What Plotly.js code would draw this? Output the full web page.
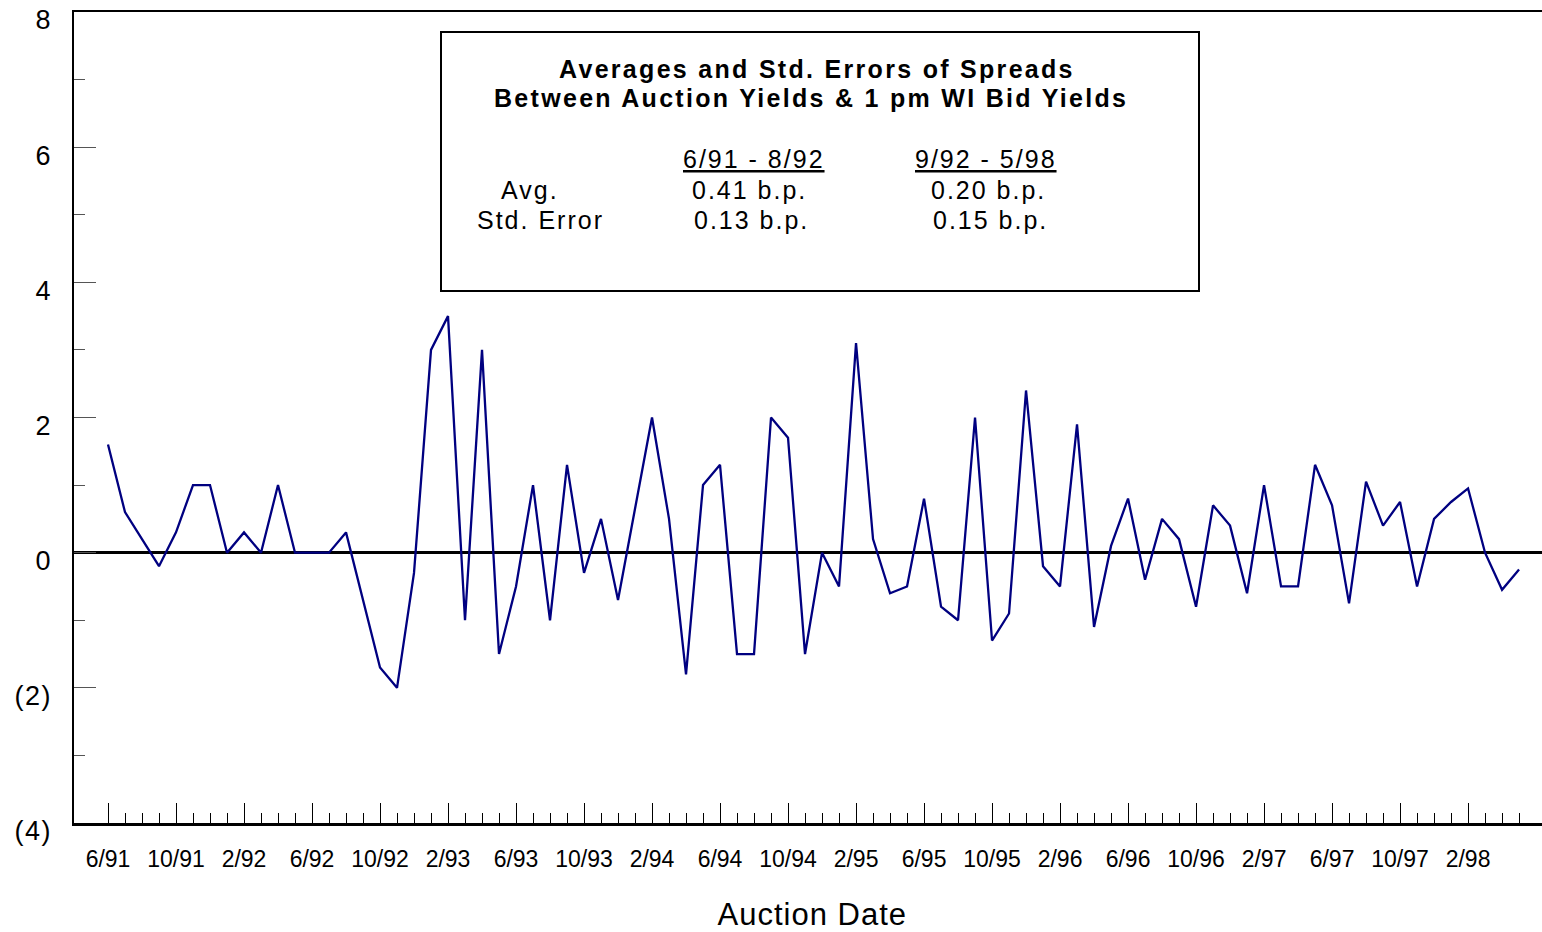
<!DOCTYPE html>
<html>
<head>
<meta charset="utf-8">
<script src="https://cdn.plot.ly/plotly-3.0.1.min.js"></script>
<style>
  html, body { margin: 0; padding: 0; background: #ffffff; }
  #chart { width: 1542px; height: 932px; }
</style>
</head>
<body>
<div id="chart"></div>
<script>
// ---- Data ----
const auctionMonths = [
  "6/91","7/91","8/91","9/91","10/91","11/91","12/91",
  "1/92","2/92","3/92","4/92","5/92","6/92","7/92","8/92","9/92","10/92","11/92","12/92",
  "1/93","2/93","3/93","4/93","5/93","6/93","7/93","8/93","9/93","10/93","11/93","12/93",
  "1/94","2/94","3/94","4/94","5/94","6/94","7/94","8/94","9/94","10/94","11/94","12/94",
  "1/95","2/95","3/95","4/95","5/95","6/95","7/95","8/95","9/95","10/95","11/95","12/95",
  "1/96","2/96","3/96","4/96","5/96","6/96","7/96","8/96","9/96","10/96","11/96","12/96",
  "1/97","2/97","3/97","4/97","5/97","6/97","7/97","8/97","9/97","10/97","11/97","12/97",
  "1/98","2/98","3/98","4/98","5/98"
];
const spreadsBp = [
  1.6, 0.6, 0.2, -0.2, 0.3, 1.0, 1.0,
  0, 0.3, 0, 1.0, 0, 0, 0, 0.3, -0.7, -1.7, -2.0, -0.3,
  3.0, 3.5, -1.0, 3.0, -1.5, -0.5, 1.0, -1.0, 1.3, -0.3, 0.5, -0.7,
  0.65, 2.0, 0.5, -1.8, 1.0, 1.3, -1.5, -1.5, 2.0, 1.7, -1.5, 0,
  -0.5, 3.1, 0.2, -0.6, -0.5, 0.8, -0.8, -1.0, 2.0, -1.3, -0.9, 2.4,
  -0.2, -0.5, 1.9, -1.1, 0.1, 0.8, -0.4, 0.5, 0.2, -0.8, 0.7, 0.4,
  -0.6, 1.0, -0.5, -0.5, 1.3, 0.7, -0.75, 1.05, 0.4, 0.75, -0.5, 0.5,
  0.75, 0.95, 0, -0.55, -0.25
];
const xTickLabels = ["6/91","10/91","2/92","6/92","10/92","2/93","6/93","10/93","2/94","6/94",
  "10/94","2/95","6/95","10/95","2/96","6/96","10/96","2/97","6/97","10/97","2/98"];
const yTickValues = [8, 6, 4, 2, 0, -2, -4];
const yTickLabels = ["8", "6", "4", "2", "0", "(2)", "(4)"];
const boxTitleLines = ["Averages and Std. Errors of Spreads", "Between Auction Yields &amp; 1 pm WI Bid Yields"];
const periodLabels = ["6/91 - 8/92", "9/92 - 5/98"];
const statRowLabels = ["Avg.", "Std. Error"];
const avgValues = ["0.41 b.p.", "0.20 b.p."];
const stdErrValues = ["0.13 b.p.", "0.15 b.p."];
const xAxisTitle = "Auction Date";

// ---- Build chart ----
const monthIndex = auctionMonths.map((m, i) => i);
const xTickVals = xTickLabels.map(l => auctionMonths.indexOf(l));

const FONT = "Liberation Sans, Arial, Helvetica, sans-serif";
const sp = (t, s) => `<span style="letter-spacing:${s}px">${t}</span>`;

const trace = {
  x: monthIndex,
  y: spreadsBp,
  text: auctionMonths,
  type: "scatter",
  mode: "lines",
  line: { color: "#000080", width: 2.3 },
  hoverinfo: "text+y"
};

// plot area in px: left 74, right 1542, top 12, bottom 823
const px = x => (x - 74) / 1468;
const py = y => (823 - y) / 811;

function ann(text, x, y, size) {
  return {
    xref: "paper", yref: "paper", x: px(x), y: py(y),
    xanchor: "center", yanchor: "middle", showarrow: false,
    text: text, font: { family: FONT, size: size, color: "#000" }
  };
}

const annotations = [
  ann(`<b>${sp(boxTitleLines[0], 2.3)}</b>`, 817, 69, 25),
  ann(`<b>${sp(boxTitleLines[1], 2.3)}</b>`, 811, 98, 25),
  ann(`<u>${sp(periodLabels[0], 2)}</u>`, 754, 159, 25),
  ann(`<u>${sp(periodLabels[1], 2)}</u>`, 986, 159, 25),
  ann(sp(statRowLabels[0], 2), 530, 190, 25),
  ann(sp(avgValues[0], 2), 749, 190, 25),
  ann(sp(avgValues[1], 2), 989, 190, 25),
  ann(sp(statRowLabels[1], 2), 540, 220, 25),
  ann(sp(stdErrValues[0], 2), 751, 220, 25),
  ann(sp(stdErrValues[1], 2), 990, 220, 25)
];

const layout = {
  width: 1542, height: 932,
  margin: { l: 74, r: 0, t: 12, b: 109, pad: 0 },
  paper_bgcolor: "#ffffff", plot_bgcolor: "#ffffff",
  showlegend: false,
  font: { family: FONT, color: "#000" },
  xaxis: {
    range: [-2, 84.35],
    showline: true, linecolor: "#000", linewidth: 2.5, mirror: true,
    showgrid: false, zeroline: false,
    ticks: "inside", ticklen: 20, tickwidth: 1, tickcolor: "#000",
    tickmode: "array", tickvals: xTickVals, ticktext: xTickLabels,
    tickfont: { family: FONT, size: 23, color: "#000" },
    ticklabelstandoff: 14,
    minor: { ticks: "inside", tickmode: "array", tickvals: monthIndex, ticklen: 10, tickwidth: 1, tickcolor: "#000", showgrid: false },
    title: { text: "&nbsp;" + sp(xAxisTitle, 1), font: { family: FONT, size: 31, color: "#000" }, standoff: 40 },
    fixedrange: true
  },
  yaxis: {
    range: [-4, 8],
    showline: true, linecolor: "#000", linewidth: 2.5, mirror: false,
    showgrid: false,
    zeroline: true, zerolinecolor: "#000", zerolinewidth: 2.4,
    ticks: "inside", ticklen: 22, tickwidth: 1, tickcolor: "#555",
    tickmode: "array", tickvals: yTickValues, ticktext: yTickLabels.map(t => sp(t, 1.5)),
    tickfont: { family: FONT, size: 27, color: "#000" },
    ticklabelstandoff: 14,
    ticklabelshift: 8,
    minor: { ticks: "inside", dtick: 1, tick0: 0, ticklen: 11, tickwidth: 1, tickcolor: "#555", showgrid: false },
    fixedrange: true
  },
  shapes: [{
    type: "rect", xref: "paper", yref: "paper",
    x0: px(441), x1: px(1199), y0: py(291), y1: py(32),
    line: { color: "#000", width: 2 }, fillcolor: "rgba(0,0,0,0)", layer: "above"
  }],
  annotations: annotations
};

Plotly.newPlot("chart", [trace], layout, { displayModeBar: false, staticPlot: true });
</script>
</body>
</html>
